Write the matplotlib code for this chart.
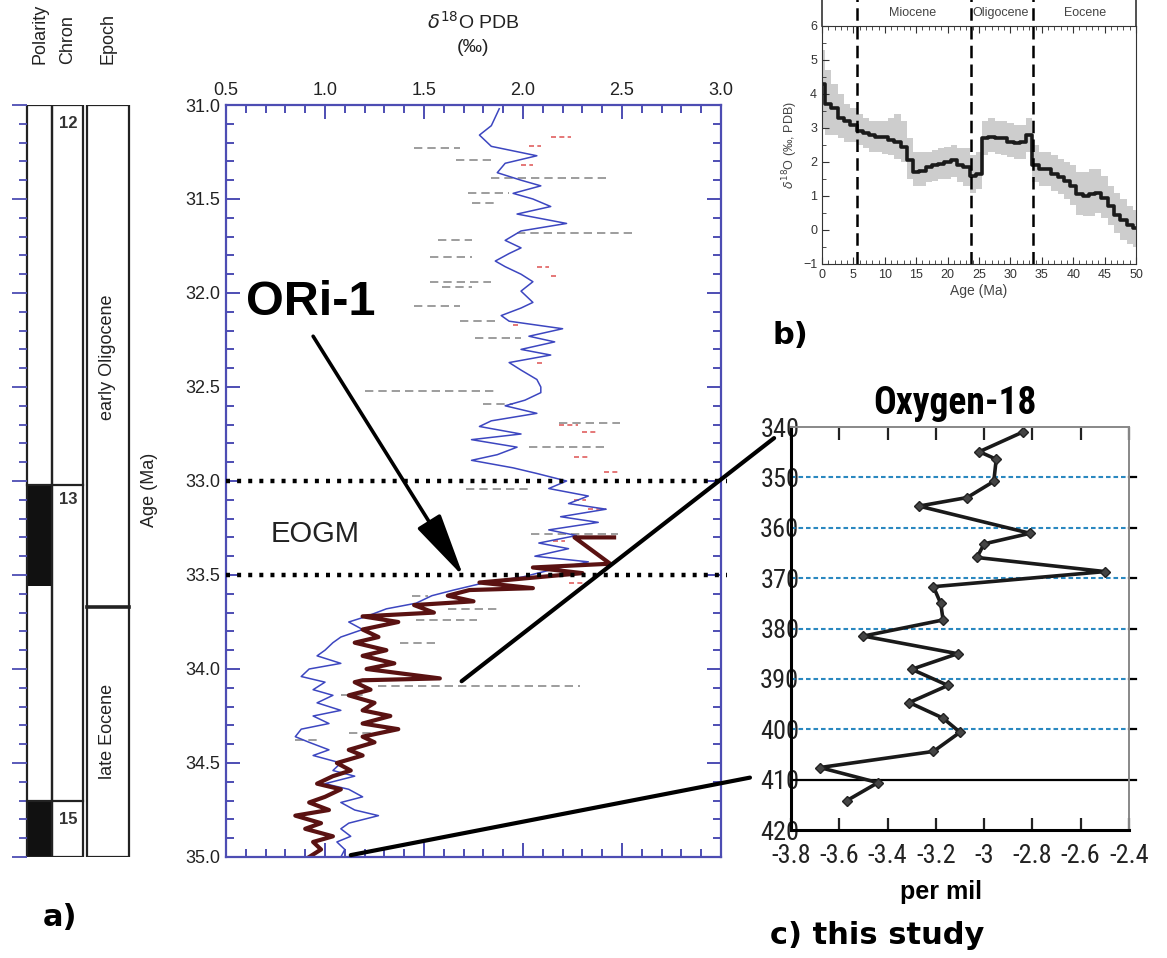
import numpy as np
import matplotlib
matplotlib.use("Agg")
import matplotlib.pyplot as plt
from matplotlib import font_manager
from matplotlib.patches import Rectangle, ConnectionPatch

plt.rcParams['font.family'] = ['Liberation Sans', 'DejaVu Sans']
names = {f.name for f in font_manager.fontManager.ttflist}
narrow = 'Liberation Sans'
for cand in ['Liberation Sans Narrow', 'Roboto Condensed', 'DejaVu Sans Condensed']:
    if cand in names:
        narrow = cand
        break

W, H = 1167, 958

# ---------- panel a : d18O across the Eocene/Oligocene ----------
blue_age = [31.02, 31.11, 31.16, 31.22, 31.27, 31.31, 31.36, 31.40, 31.43, 31.47, 31.50, 31.54,
            31.58, 31.63, 31.67, 31.72, 31.76, 31.79, 31.83, 31.86, 31.90, 31.94, 31.99, 32.05,
            32.08, 32.12, 32.15, 32.19, 32.23, 32.26, 32.30, 32.33, 32.37, 32.41, 32.46, 32.50,
            32.53, 32.57, 32.60, 32.64, 32.68, 32.71, 32.75, 32.78, 32.82, 32.86, 32.89, 32.93,
            32.96, 33.00, 33.04, 33.08, 33.12, 33.15, 33.19, 33.22, 33.26, 33.29, 33.33, 33.36,
            33.40, 33.43, 33.47, 33.51, 33.54, 33.58, 33.61, 33.65, 33.68, 33.72, 33.75, 33.79,
            33.83, 33.86, 33.90, 33.93, 33.97, 34.00, 34.04, 34.07, 34.11, 34.14, 34.18, 34.22,
            34.25, 34.29, 34.32, 34.36, 34.39, 34.43, 34.46, 34.50, 34.54, 34.57, 34.61, 34.64,
            34.68, 34.71, 34.75, 34.78, 34.82, 34.85, 34.89, 34.92, 34.96, 35.00]
blue_d18o = [1.88, 1.84, 1.78, 1.84, 2.07, 1.91, 1.87, 1.99, 2.09, 1.95, 2.05, 2.14,
             1.97, 2.22, 1.99, 1.91, 1.99, 1.93, 1.86, 1.91, 1.99, 2.05, 1.99, 2.05,
             1.99, 1.89, 1.93, 2.20, 2.03, 2.16, 1.99, 2.14, 1.93, 1.99, 2.07, 2.09,
             2.09, 2.01, 1.91, 2.07, 1.84, 1.78, 1.99, 1.74, 1.97, 1.87, 1.74, 1.95,
             2.07, 2.22, 2.13, 2.33, 2.23, 2.42, 2.19, 2.38, 2.13, 2.27, 2.08, 2.23,
             2.06, 2.33, 2.15, 2.00, 1.81, 1.65, 1.54, 1.46, 1.31, 1.21, 1.12, 1.19,
             1.08, 1.04, 1.00, 0.96, 1.08, 0.92, 0.88, 1.00, 0.94, 1.04, 0.96, 1.08,
             0.94, 1.02, 0.88, 0.85, 0.92, 1.02, 0.94, 1.08, 1.04, 1.15, 1.00, 1.12,
             1.19, 1.08, 1.15, 1.27, 1.12, 1.08, 1.13, 1.06, 1.10, 1.08]

red_age = [33.30, 33.30, 33.44, 33.46, 33.49, 33.54, 33.57, 33.58, 33.61, 33.64, 33.66, 33.70,
           33.72, 33.75, 33.79, 33.83, 33.86, 33.90, 33.93, 33.97, 34.00, 34.05, 34.06, 34.07,
           34.11, 34.14, 34.18, 34.22, 34.25, 34.29, 34.32, 34.36, 34.39, 34.43, 34.46, 34.50,
           34.54, 34.57, 34.61, 34.64, 34.68, 34.71, 34.75, 34.78, 34.82, 34.85, 34.89, 34.92,
           34.96, 35.00]
red_d18o = [2.46, 2.26, 2.44, 2.05, 2.30, 1.78, 2.05, 1.73, 1.62, 1.75, 1.45, 1.55,
            1.19, 1.37, 1.19, 1.27, 1.15, 1.31, 1.19, 1.35, 1.21, 1.58, 1.19, 1.15,
            1.23, 1.12, 1.25, 1.19, 1.33, 1.19, 1.37, 1.19, 1.25, 1.12, 1.19, 1.06,
            1.13, 1.04, 0.96, 1.08, 1.00, 0.92, 1.02, 0.85, 0.98, 0.90, 1.04, 0.94,
            0.98, 0.92]

# grey dashed records: age, start, end
grey_age = [31.23, 31.29, 31.39, 31.47, 31.52, 31.68, 31.72, 31.81, 31.94, 31.97, 32.07, 32.15,
            32.24, 32.52, 32.59, 32.69, 32.82, 33.04, 33.28, 33.61, 33.68, 33.74, 33.86, 34.09,
            34.14, 34.38, 34.34]
grey_x0 = [1.45, 1.66, 1.84, 1.72, 1.74, 1.97, 1.57, 1.53, 1.53, 1.59, 1.45, 1.68,
           1.76, 1.20, 1.80, 2.18, 2.03, 1.71, 2.04, 1.44, 1.62, 1.46, 1.38, 1.27,
           1.08, 0.85, 1.12]
grey_x1 = [1.68, 1.84, 2.43, 1.93, 1.87, 2.57, 1.74, 1.74, 1.84, 1.74, 1.68, 1.87,
           1.99, 1.87, 1.95, 2.49, 2.41, 2.04, 2.48, 1.52, 1.88, 1.77, 1.58, 2.29,
           1.19, 0.96, 1.27]

# small red dashed records
pink_age = [31.17, 31.22, 31.32, 31.86, 31.91, 32.17, 32.37, 32.70, 32.74, 32.87, 32.95,
            33.10, 33.15, 33.32, 33.54]
pink_x0 = [2.14, 2.03, 1.99, 2.07, 2.14, 1.95, 2.07, 2.18, 2.30, 2.26, 2.41, 2.26, 2.33, 2.15, 2.23]
pink_x1 = [2.24, 2.09, 2.05, 2.13, 2.18, 1.99, 2.11, 2.28, 2.38, 2.34, 2.49, 2.32, 2.42, 2.21, 2.33]

eogm_levels = [33.0, 33.5]

# ---------- left strip : magnetostratigraphy ----------
polarity_black = [(33.02, 33.56), (34.70, 35.00)]
chron_bounds = [33.02, 34.70]
chron_labels = ['12', '13', '15']
chron_label_age = [31.10, 33.10, 34.80]
epoch_bound = 33.67
epoch_names = ['early Oligocene', 'late Eocene']
epoch_mid = [32.34, 34.33]

# ---------- panel b : Cenozoic d18O stack ----------
b_age = list(range(51))
b_d18o = [4.3, 3.7, 3.6, 3.3, 3.2, 3.1, 2.9, 2.85, 2.8, 2.75, 2.75, 2.65, 2.6, 2.45, 2.05, 1.7, 1.75,
          1.85, 1.9, 1.95, 2.0, 2.05, 1.9, 1.85, 1.6, 1.65, 2.7, 2.75, 2.7, 2.7, 2.6, 2.55, 2.6, 2.8,
          1.9, 1.8, 1.8, 1.65, 1.55, 1.45, 1.3, 1.05, 1.0, 1.05, 1.1, 0.95, 0.7, 0.45, 0.3, 0.15, 0.05]
b_hi = [5.3, 4.7, 4.3, 4.0, 3.7, 3.6, 3.4, 3.3, 3.2, 3.2, 3.2, 3.3, 3.4, 3.2, 2.7, 2.3, 2.3,
        2.3, 2.35, 2.4, 2.45, 2.5, 2.4, 2.4, 2.2, 2.3, 3.2, 3.3, 3.2, 3.2, 3.15, 3.1, 3.1, 3.3,
        2.5, 2.3, 2.3, 2.2, 2.1, 2.0, 1.9, 1.7, 1.7, 1.8, 1.8, 1.6, 1.3, 1.1, 0.9, 0.7, 0.6]
b_lo = [3.0, 2.8, 2.8, 2.7, 2.6, 2.6, 2.5, 2.4, 2.3, 2.3, 2.25, 2.2, 2.1, 2.0, 1.5, 1.3, 1.3,
        1.4, 1.45, 1.5, 1.5, 1.55, 1.4, 1.3, 1.1, 1.2, 2.2, 2.3, 2.25, 2.2, 2.15, 2.1, 2.1, 2.3,
        1.4, 1.3, 1.3, 1.15, 1.05, 0.9, 0.75, 0.45, 0.4, 0.4, 0.5, 0.35, 0.15, -0.1, -0.3, -0.4, -0.5]
b_bounds = [5.5, 23.7, 33.6]
b_epochs = ['Miocene', 'Oligocene', 'Eocene']
b_epoch_mid = [14.4, 28.5, 41.9]

# ---------- panel c : this study ----------
c_depth = [341.0, 344.9, 346.4, 350.8, 354.0, 355.7, 361.1, 363.2, 365.9, 368.7, 371.7, 375.0,
           378.3, 381.5, 385.0, 388.1, 391.3, 394.7, 397.8, 400.6, 404.4, 407.6, 410.6, 414.2]
c_d18o = [-2.84, -3.02, -2.95, -2.96, -3.07, -3.27, -2.81, -3.00, -3.03, -2.50, -3.21, -3.18,
          -3.17, -3.50, -3.11, -3.30, -3.15, -3.31, -3.17, -3.10, -3.21, -3.68, -3.44, -3.57]
c_grid = [350, 360, 370, 380, 390, 400]
c_solid = 410


def rect(l, t, r, b):
    return [l / W, 1 - b / H, (r - l) / W, (b - t) / H]


def fx(x):
    return x / W


def fy(y):
    return 1 - y / H


axblue = '#4d4db3'
fig = plt.figure(figsize=(W / 100, H / 100), dpi=100)

# ===== panel a =====
ax = fig.add_axes(rect(226, 105, 721, 857))
for a, x0, x1 in zip(grey_age, grey_x0, grey_x1):
    ax.plot([x0, x1], [a, a], color='#8c8c8c', lw=1.2, ls=(0, (5, 3)))
for a, x0, x1 in zip(pink_age, pink_x0, pink_x1):
    ax.plot([x0, x1], [a, a], color='#e06060', lw=1.2, ls=(0, (3, 2)))
ax.plot(blue_d18o, blue_age, color='#3c46c0', lw=1.1)
ax.plot(red_d18o, red_age, color='#5a1212', lw=3.0)
for lev in eogm_levels:
    ax.plot([0.5, 3.03], [lev, lev], color='k', lw=3.2, ls=(0, (0.9, 1.6)),
            clip_on=False, zorder=5)
ax.set_xlim(0.5, 3.0)
ax.set_ylim(35.0, 31.0)
ax.xaxis.tick_top()
ax.set_xticks(np.arange(0.5, 3.01, 0.5))
ax.set_xticks(np.arange(0.5, 3.01, 0.1), minor=True)
ax.set_yticks(np.arange(31.0, 35.01, 0.5))
ax.set_yticks(np.arange(31.0, 35.01, 0.1), minor=True)
ax.set_xticklabels(['%.1f' % v for v in np.arange(0.5, 3.01, 0.5)])
ax.set_yticklabels(['%.1f' % v for v in np.arange(31.0, 35.01, 0.5)])
ax.tick_params(which='both', direction='in', top=True, bottom=True, left=True, right=True,
               color=axblue, width=1.4, labelsize=13, labelcolor='#222')
ax.tick_params(which='major', length=10, pad=4)
ax.tick_params(which='minor', length=6)
for s in ax.spines.values():
    s.set_color(axblue)
    s.set_linewidth(1.6)
ax.text(0.93, 32.05, 'ORi-1', fontsize=35, fontweight='bold', ha='center', va='center')
ax.text(0.95, 33.28, 'EOGM', fontsize=21, color='#222', ha='center', va='center')
ax.annotate('', xy=(1.70, 33.51), xytext=(0.94, 32.23),
            arrowprops=dict(arrowstyle='-|>,head_length=2.0,head_width=0.42',
                            mutation_scale=20, lw=2.6, color='k', shrinkA=0, shrinkB=0))
fig.text(fx(473), fy(22), r'$\delta^{18}$O PDB', fontsize=14, ha='center', va='center', color='#222')
fig.text(fx(473), fy(48), '(‰)', fontsize=14, ha='center', va='center', color='#222')
fig.text(fx(150), fy(490), 'Age (Ma)', fontsize=13, rotation=90, ha='center', va='center', color='#222')
fig.text(fx(60), fy(918), 'a)', fontsize=22, fontweight='bold', ha='center', va='center',
         family=['DejaVu Sans'])

# ===== left strip =====
axs = fig.add_axes(rect(0, 105, 160, 857))
axs.set_xlim(0, 160)
axs.set_ylim(35.0, 31.0)
for s in ['top', 'right', 'bottom']:
    axs.spines[s].set_visible(False)
axs.spines['left'].set_position(('data', 27))
axs.spines['left'].set_visible(False)
axs.set_xticks([])
axs.set_yticks(np.arange(31.0, 35.01, 0.5))
axs.set_yticks(np.arange(31.0, 35.01, 0.1), minor=True)
axs.set_yticklabels([])
axs.tick_params(axis='y', which='both', direction='out', color=axblue, width=1.3)
axs.tick_params(axis='y', which='major', length=11)
axs.tick_params(axis='y', which='minor', length=6)
axs.patch.set_alpha(0)
for a0, a1 in polarity_black:
    axs.add_patch(Rectangle((27, a0), 25, a1 - a0, color='#111', lw=0))
axs.add_patch(Rectangle((27, 31.0), 25, 4.0, fill=False, lw=1.6, ec='#222'))
axs.add_patch(Rectangle((52, 31.0), 31, 4.0, fill=False, lw=1.6, ec='#222'))
axs.add_patch(Rectangle((87, 31.0), 42, 4.0, fill=False, lw=1.6, ec='#222'))
for b in chron_bounds:
    axs.plot([27, 83], [b, b], color='#222', lw=1.6)
axs.plot([87, 129], [epoch_bound, epoch_bound], color='#222', lw=2.6)
for lab, a in zip(chron_labels, chron_label_age):
    axs.text(68, a, lab, fontsize=12, fontweight='bold', ha='center', va='center', color='#333')
for lab, a in zip(epoch_names, epoch_mid):
    axs.text(108, a, lab, fontsize=13, rotation=90, ha='center', va='center', color='#222')
for lab, x in zip(['Polarity', 'Chron', 'Epoch'], [40, 68, 108]):
    fig.text(fx(x), fy(64), lab, fontsize=13, rotation=90, ha='center', va='bottom', color='#222')

# ===== panel b =====
axb = fig.add_axes(rect(822, 26, 1136, 264))
axb.fill_between(b_age, b_lo, b_hi, color='#cdcdcd', lw=0, step='mid')
axb.plot(b_age, b_d18o, color='#1a1a1a', lw=2.6, drawstyle='steps-mid')
for b in b_bounds:
    axb.plot([b, b], [-1, 6.78], color='k', lw=1.8, ls=(0, (5, 2.5)), clip_on=False)
for x in [0, 50]:
    axb.plot([x, x], [6, 6.78], color='#333', lw=1.2, clip_on=False)
for lab, x in zip(b_epochs, b_epoch_mid):
    axb.text(x, 6.38, lab, fontsize=9, ha='center', va='center', color='#444')
axb.set_xlim(0, 50)
axb.set_ylim(-1, 6)
axb.set_xticks(range(0, 51, 5))
axb.set_xticks(range(0, 51, 1), minor=True)
axb.set_yticks(range(-1, 7))
axb.set_yticks(np.arange(-1, 6.01, 0.5), minor=True)
axb.tick_params(which='both', direction='in', top=True, right=False, labelsize=9,
                labelcolor='#333', color='#333')
axb.tick_params(which='major', length=5)
axb.tick_params(which='minor', length=3)
for s in axb.spines.values():
    s.set_color('#333')
axb.set_xlabel('Age (Ma)', fontsize=10, color='#444', labelpad=2)
axb.set_ylabel(r'$\delta^{18}$O (‰, PDB)', fontsize=9, color='#444', labelpad=2)
fig.text(fx(790), fy(335), 'b)', fontsize=22, fontweight='bold', ha='center', va='center',
         family=['DejaVu Sans'])

# ===== panel c =====
axc = fig.add_axes(rect(791, 427, 1129, 830))
for d in c_grid:
    axc.plot([-3.8, -2.37], [d, d], color='#2a88c0', lw=1.5, ls=(0, (2.2, 1.4)), clip_on=False)
    axc.plot([-2.4, -2.37], [d, d], color='k', lw=1.6, clip_on=False)
axc.plot([-3.8, -2.37], [c_solid, c_solid], color='k', lw=1.6, clip_on=False)
axc.plot(c_d18o, c_depth, color='#1a1a1a', lw=2.6, marker='D', markersize=5,
         markerfacecolor='#444', markeredgecolor='#222')
axc.set_xlim(-3.8, -2.4)
axc.set_ylim(420, 340)
xt = [-3.8, -3.6, -3.4, -3.2, -3.0, -2.8, -2.6, -2.4]
axc.set_xticks(xt)
axc.set_xticklabels(['-3.8', '-3.6', '-3.4', '-3.2', '-3', '-2.8', '-2.6', '-2.4'])
axc.set_yticks(range(340, 421, 10))
csize = 19 if narrow != 'Liberation Sans' else 16
axc.tick_params(axis='x', direction='in', top=True, length=9, width=1.6, pad=10, labelsize=csize,
                color='#222')
axc.tick_params(axis='y', length=0, pad=-6, labelsize=csize)
for lab in axc.get_xticklabels() + axc.get_yticklabels():
    lab.set_family(narrow)
    lab.set_color('#222')
axc.spines['left'].set_linewidth(2.2)
axc.spines['bottom'].set_linewidth(2.2)
axc.spines['top'].set_color('#888')
axc.spines['right'].set_color('#888')
axc.spines['top'].set_linewidth(1.4)
axc.spines['right'].set_linewidth(1.4)
fig.text(fx(955), fy(403), 'Oxygen-18', fontsize=27, fontweight='bold', ha='center', va='center',
         family=[narrow, 'DejaVu Sans'])
fig.text(fx(941), fy(892), 'per mil', fontsize=18, fontweight='bold', ha='center', va='center')
fig.text(fx(770), fy(935), 'c) this study', fontsize=22, fontweight='bold', ha='left', va='center',
         family=['DejaVu Sans'])

# ===== connecting lines =====
for (xa, ya), (xc, yc) in [((1.69, 34.065), (-3.87, 342.2)), ((1.13, 34.99), (-3.97, 409.6))]:
    con = ConnectionPatch(xyA=(xa, ya), coordsA='data', axesA=ax,
                          xyB=(xc, yc), coordsB='data', axesB=axc,
                          color='k', lw=3.0, zorder=10)
    con.set_annotation_clip(False)
    fig.add_artist(con)

fig.savefig('out.png', dpi=100)
